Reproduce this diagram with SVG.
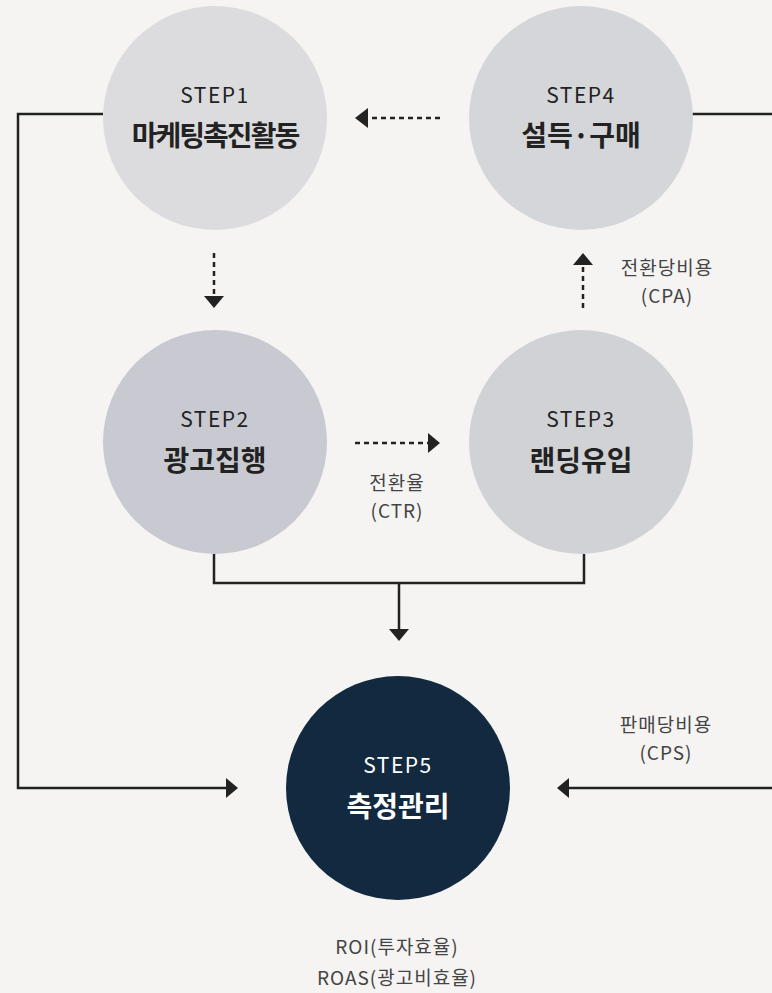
<svg xmlns="http://www.w3.org/2000/svg" width="772" height="993" viewBox="0 0 772 993">
<style>
.bg{fill:#f5f4f2}
.step{font-family:"Noto Sans CJK KR","Noto Sans",sans-serif;font-size:21px;fill:#222;text-anchor:middle;letter-spacing:1.5px}
.title{font-family:"Noto Sans CJK KR",sans-serif;font-size:28px;font-weight:bold;fill:#222;text-anchor:middle}
.lbl{font-family:"Noto Sans CJK KR",sans-serif;font-size:19px;fill:#444;text-anchor:middle;letter-spacing:1px}
.solid{fill:none;stroke:#222;stroke-width:2.5}
.dash{fill:none;stroke:#222;stroke-width:2.5;stroke-dasharray:5 4}
.head{fill:#222}
.w{fill:#fff}
</style>
<rect class="bg" x="0" y="0" width="772" height="993"/>
<g id="connectors">
<path class="solid" d="M103 114 H18 V788 H227"/>
<polygon class="head" points="226,778 238,788 226,798"/>
<path class="solid" d="M692 114 H776 V788 H568"/>
<polygon class="head" points="569,778 557,788 569,798"/>
<path class="solid" d="M214 554 V583 H584 V554 M399 583 V630"/>
<polygon class="head" points="389,629 409,629 399,641"/>
<line class="dash" x1="440" y1="118" x2="367" y2="118"/>
<polygon class="head" points="368,108 355,118 368,128"/>
<line class="dash" x1="214" y1="253" x2="214" y2="297"/>
<polygon class="head" points="204,296 224,296 214,308"/>
<line class="dash" x1="355" y1="443" x2="429" y2="443"/>
<polygon class="head" points="428,433 440,443 428,453"/>
<line class="dash" x1="583" y1="308" x2="583" y2="264"/>
<polygon class="head" points="573,265 593,265 583,253"/>
<text class="lbl" x="397" y="490">전환율</text>
<text class="lbl" x="397" y="518">(CTR)</text>
<text class="lbl" x="667" y="275">전환당비용</text>
<text class="lbl" x="667" y="303">(CPA)</text>
<text class="lbl" x="666" y="732">판매당비용</text>
<text class="lbl" x="666" y="760">(CPS)</text>
</g>
<g id="step1">
<circle cx="215" cy="118" r="112" fill="#dcdcde"/>
<text class="step" x="215" y="103">STEP1</text>
<text class="title" x="215" y="146" letter-spacing="-2">마케팅촉진활동</text>
</g>
<g id="step4">
<circle cx="581" cy="118" r="112" fill="#d5d6d9"/>
<text class="step" x="581" y="103">STEP4</text>
<text class="title" x="581" y="146">설득·구매</text>
</g>
<g id="step2">
<circle cx="215" cy="442" r="112" fill="#c9cad1"/>
<text class="step" x="215" y="427">STEP2</text>
<text class="title" x="215" y="471">광고집행</text>
</g>
<g id="step3">
<circle cx="581" cy="442" r="112" fill="#d1d2d6"/>
<text class="step" x="581" y="427">STEP3</text>
<text class="title" x="581" y="471">랜딩유입</text>
</g>
<g id="step5">
<circle cx="398" cy="788" r="112" fill="#12293f"/>
<text class="step w" x="398" y="773">STEP5</text>
<text class="title w" x="398" y="817">측정관리</text>
<text class="lbl" x="397" y="954">ROI(투자효율)</text>
<text class="lbl" x="397" y="985">ROAS(광고비효율)</text>
</g>
</svg>
